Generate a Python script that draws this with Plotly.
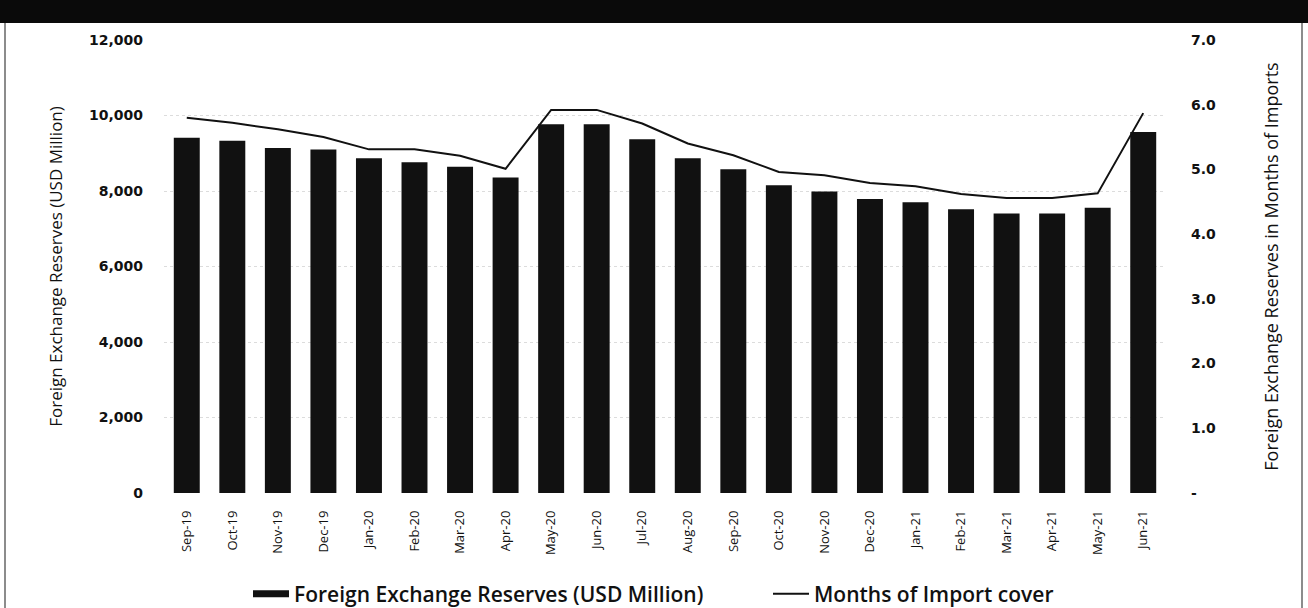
import plotly.graph_objects as go

# Data
months = ['Sep-19', 'Oct-19', 'Nov-19', 'Dec-19', 'Jan-20', 'Feb-20', 'Mar-20', 'Apr-20',
          'May-20', 'Jun-20', 'Jul-20', 'Aug-20', 'Sep-20', 'Oct-20', 'Nov-20', 'Dec-20',
          'Jan-21', 'Feb-21', 'Mar-21', 'Apr-21', 'May-21', 'Jun-21']
reserves = [9410, 9330, 9140, 9100, 8865, 8760, 8640, 8360,
            9770, 9770, 9370, 8865, 8575, 8150, 7990, 7785,
            7700, 7515, 7405, 7405, 7555, 9560]
import_cover = [5.80, 5.72, 5.62, 5.50, 5.31, 5.31, 5.21, 5.01,
                5.92, 5.92, 5.71, 5.40, 5.22, 4.96, 4.91, 4.79,
                4.74, 4.62, 4.56, 4.56, 4.63, 5.87]

left_ticks = [0, 2000, 4000, 6000, 8000, 10000, 12000]
right_ticks = [0, 1, 2, 3, 4, 5, 6, 7]
right_labels = ['-', '1.0', '2.0', '3.0', '4.0', '5.0', '6.0', '7.0']

# Colors / fonts
bar_color = '#111111'
text_color = '#111111'
title_font = 'Open Sans, sans-serif'
tick_font = 'DejaVu Sans, sans-serif'

W, H = 1308, 608
ml, mr, mt, mb = 164, 142, 40, 115
pw = W - ml - mr
ph = H - mt - mb


def py(px):
    # pixel row -> paper fraction
    return (H - mb - px) / ph


def px_(x):
    # pixel column -> paper fraction
    return (x - ml) / pw


fig = go.Figure()

fig.add_trace(go.Bar(
    x=months,
    y=reserves,
    name='Foreign Exchange Reserves (USD Million)',
    marker_color=bar_color,
    marker_line_width=0,
    showlegend=False,
))

# legend proxy: wide flat swatch like the reference
fig.add_trace(go.Scatter(
    x=[None], y=[None],
    name='Foreign Exchange Reserves (USD Million)',
    mode='lines',
    line=dict(color=bar_color, width=7),
    legend='legend',
))

fig.add_trace(go.Scatter(
    x=months,
    y=import_cover,
    name='Months of Import cover',
    mode='lines',
    line=dict(color='#111111', width=2),
    yaxis='y2',
    legend='legend2',
))

# black band on top and thin frame lines
fig.add_shape(type='rect', xref='paper', yref='paper', x0=px_(-5), x1=px_(W + 5),
              y0=py(23), y1=py(-5), fillcolor='#0a0a0a', line_width=0, layer='above')
for xf in (5, 1302):
    fig.add_shape(type='line', xref='paper', yref='paper', x0=px_(xf), x1=px_(xf),
                  y0=py(H + 5), y1=py(23), line=dict(color='#666666', width=1.5))

legend_font = dict(family=title_font, size=21, color=text_color, weight=600)

fig.update_layout(
    width=W, height=H,
    margin=dict(l=ml, r=mr, t=mt, b=mb, autoexpand=False),
    paper_bgcolor='white',
    plot_bgcolor='white',
    bargap=0.43,
    showlegend=True,
    legend=dict(orientation='h', x=px_(248), xanchor='left', y=py(594), yanchor='middle',
                font=legend_font, itemwidth=36),
    legend2=dict(orientation='h', x=px_(768), xanchor='left', y=py(594), yanchor='middle',
                 font=legend_font, itemwidth=36),
    xaxis=dict(
        type='category',
        tickangle=-90,
        tickfont=dict(family=title_font, size=13, color=text_color),
        showgrid=False, showline=False, ticks='',
        ticklabelstandoff=14,
    ),
    yaxis=dict(
        range=[0, 12000],
        tickvals=left_ticks,
        tickformat=',',
        tickfont=dict(family=tick_font, size=14, color=text_color, weight='bold'),
        showgrid=True, gridcolor='#dcdcdc', griddash='dot', gridwidth=1,
        zeroline=False, showline=False, ticks='',
        ticklabelstandoff=20,
        title=dict(text='Foreign Exchange Reserves (USD Million)',
                   font=dict(family=title_font, size=17, color=text_color), standoff=22),
    ),
    yaxis2=dict(
        range=[0, 7],
        overlaying='y', side='right',
        tickvals=right_ticks, ticktext=right_labels,
        tickfont=dict(family=tick_font, size=14, color=text_color, weight='bold'),
        showgrid=False, zeroline=False, showline=False, ticks='',
        ticklabelstandoff=24,
        title=dict(text='Foreign Exchange Reserves in Months of Imports',
                   font=dict(family=title_font, size=18, color=text_color), standoff=50),
    ),
)

fig.write_html("out.html", config={'displayModeBar': False},
               post_script="document.body.style.margin='0';")
